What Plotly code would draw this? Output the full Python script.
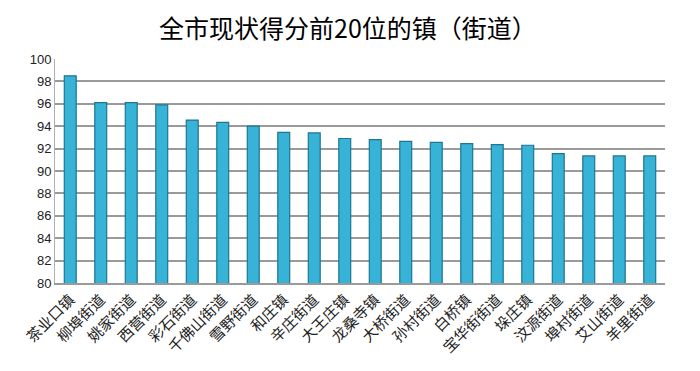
import plotly.graph_objects as go

towns = ["茶业口镇", "柳埠街道", "姚家街道", "西营街道", "彩石街道", "千佛山街道", "雪野街道",
         "和庄镇", "辛庄街道", "大王庄镇", "龙桑寺镇", "大桥街道", "孙村街道", "白桥镇",
         "宝华街街道", "垛庄镇", "汶源街道", "埠村街道", "艾山街道", "羊里街道"]
scores = [98.5, 96.1, 96.1, 95.9, 94.55, 94.35, 94.0, 93.45, 93.4, 92.9,
          92.8, 92.65, 92.55, 92.45, 92.35, 92.3, 91.55, 91.35, 91.35, 91.35]
y_ticks = [80, 82, 84, 86, 88, 90, 92, 94, 96, 98, 100]

fig = go.Figure()
fig.add_trace(go.Bar(
    x=towns, y=scores, width=0.39,
    marker=dict(color="#36B3D7", line=dict(color="#1E7690", width=1.2)),
))

# page body has an 8px default margin, so the figure is 692x363
fig.update_layout(
    width=692, height=363,
    margin=dict(l=47, r=35, t=51, b=88),
    paper_bgcolor="white", plot_bgcolor="white",
    showlegend=False,
    title=dict(text="全市现状得分前20位的镇（街道）", x=340 / 692, xanchor="center",
               y=1 - 21 / 363, yanchor="middle",
               font=dict(family="Noto Sans CJK SC", size=25, color="black")),
    xaxis=dict(tickangle=-45, showgrid=False, showline=True, linecolor="#9A9A9A",
               linewidth=2, ticks="", automargin=False,
               tickfont=dict(family="Noto Sans CJK SC", size=15, color="#222")),
    yaxis=dict(range=[80, 100], tickvals=y_ticks, showgrid=True, gridcolor="#9A9A9A",
               gridwidth=1.5, showline=True, linecolor="#B0B0B0", linewidth=1, automargin=False,
               ticks="", tickfont=dict(family="Liberation Sans", size=13, color="#222")),
)

fig.write_html("out.html")
